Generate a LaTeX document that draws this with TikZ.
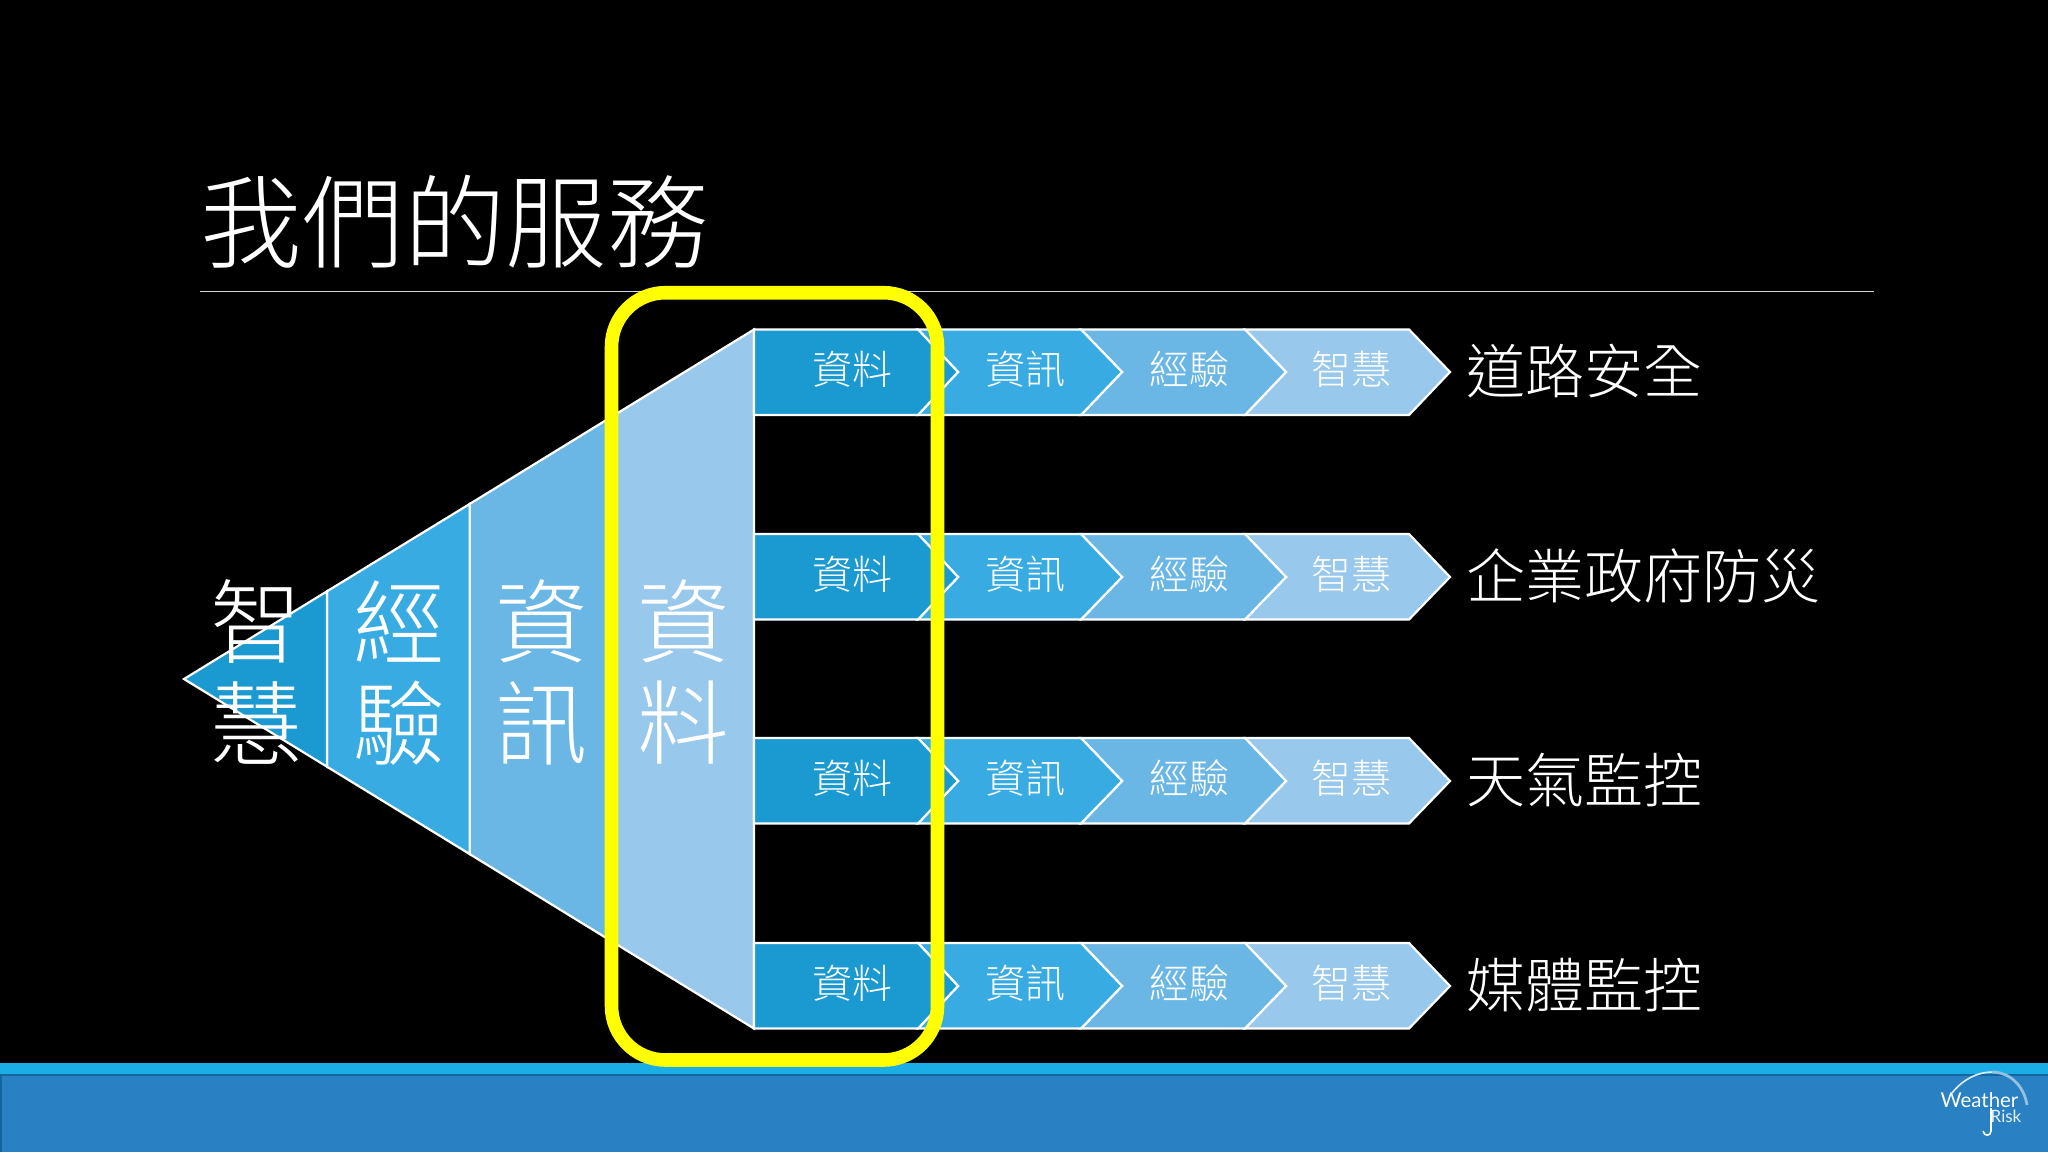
\documentclass[tikz,border=0pt]{standalone}
\usepackage{fontspec}
\newfontfamily\cjk{Noto Sans CJK TC Light}
\newfontfamily\logofont{Lato}
\definecolor{cA}{HTML}{1B9AD1}
\definecolor{cB}{HTML}{38ACE2}
\definecolor{cC}{HTML}{6AB7E6}
\definecolor{cD}{HTML}{98C8EC}
\definecolor{bandlight}{HTML}{1BAEE6}
\definecolor{bandmain}{HTML}{2980C3}
\definecolor{bandedge}{HTML}{14679E}
\definecolor{ruleyellow}{HTML}{FFFF00}
\tikzset{
  x=0.5pt,y=-0.5pt,
  seg/.style={draw=white,line width=1.1pt,line join=miter},
  chev/.style={draw=white,line width=1.1pt,line join=miter},
  smalltxt/.style={text=white,inner sep=0pt,font=\cjk\fontsize{20}{20}\selectfont},
  bigtxt/.style={text=white,inner sep=0pt,font=\cjk\fontsize{46}{46}\selectfont},
  sidetxt/.style={text=white,inner sep=0pt,anchor=west,font=\cjk\fontsize{29.5}{30}\selectfont},
}
\newcommand{\chevrow}[5]{%
  % #1 top y, #2 bottom y, #3 row tag, #4 mid y, #5 side label
  \path[chev,fill=cD] (1245,#1) -- (1409,#1) -- (1450,#4) -- (1409,#2) -- (1245,#2) -- (1286,#4) -- cycle;
  \path[chev,fill=cC] (1081,#1) -- (1245,#1) -- (1286,#4) -- (1245,#2) -- (1081,#2) -- (1122,#4) -- cycle;
  \path[chev,fill=cB] (918,#1) -- (1081,#1) -- (1122,#4) -- (1081,#2) -- (918,#2) -- (958,#4) -- cycle;
  \path[chev,fill=cA] (754,#1) -- (918,#1) -- (958,#4) -- (918,#2) -- (754,#2) -- cycle;
  \node[smalltxt] (a#3) at (852.5,#4-2.5) {資料};
  \node[smalltxt] (b#3) at (1025,#4-2.5) {資訊};
  \node[smalltxt] (c#3) at (1189,#4-2.5) {經驗};
  \node[smalltxt] (d#3) at (1351.5,#4-2.5) {智慧};
  \node[sidetxt] (s#3) at (1466,#4-0.7) {#5};
}
\begin{document}
\begin{tikzpicture}
\fill[black] (0,0) rectangle (2048,1152);
\useasboundingbox (0,0) rectangle (2048,1152);
% bottom band
\fill[bandlight] (0,1063) rectangle (2048,1074);
\fill[bandmain] (0,1075) rectangle (2048,1152);
\fill[bandedge] (0,1074) rectangle (2048,1075.5);
\fill[bandedge] (0,1075) rectangle (1.5,1152);
% title
\node[text=white,inner sep=0pt,anchor=west,font=\cjk\fontsize{50.8}{51}\selectfont] (title) at (200.5,222) {我們的服務};
\coordinate (ruleL) at (200,291.5);
\coordinate (ruleR) at (1874,291.5);
\draw[white!85!black,line width=0.6pt] (ruleL) -- (ruleR);
% funnel
\path[seg,fill=cD] (612,416.5) -- (754,329.5) -- (754,1028.5) -- (612,941.5) -- cycle;
\path[seg,fill=cC] (469.6,504) -- (612,416.5) -- (612,941.5) -- (469.6,854) -- cycle;
\path[seg,fill=cB] (327,591.3) -- (469.6,504) -- (469.6,854) -- (327,766.7) -- cycle;
\path[seg,fill=cA] (184,679) -- (327,591.3) -- (327,766.7) -- cycle;
% rows
\chevrow{329.5}{415}{1}{372}{道路安全}
\chevrow{534}{619.5}{2}{577}{企業政府防災}
\chevrow{738}{823.5}{3}{781}{天氣監控}
\chevrow{943}{1028.5}{4}{986}{媒體監控}
% funnel labels
\node[bigtxt] (f1a) at (256,621) {智};
\node[bigtxt] (f1b) at (256,723) {慧};
\node[bigtxt] (f2a) at (399,621) {經};
\node[bigtxt] (f2b) at (399,723) {驗};
\node[bigtxt] (f3a) at (541,621) {資};
\node[bigtxt] (f3b) at (541,723) {訊};
\node[bigtxt] (f4a) at (683.5,621) {資};
\node[bigtxt] (f4b) at (683.5,723) {料};
% yellow frame
\draw[ruleyellow,line width=6.8pt,rounded corners=27pt] (611.5,292.7) rectangle (937.5,1060);
% logo
\node[text=white,inner sep=0pt,font=\logofont\fontsize{10.2}{11}\selectfont] (logoW) at (1979.5,1100) {Weather};
\node[text=white!90!bandmain,inner sep=0pt,font=\logofont\fontsize{8.5}{10}\selectfont] (logoR) at (2006,1116) {Risk};
\draw[white!85!bandmain,line width=0.8pt] (1952,1093) .. controls (1963,1079) and (1978,1072) .. (1992,1072);
\draw[white!50!bandmain,line width=1.4pt] (1992,1072) .. controls (2010,1072) and (2024,1086) .. (2027,1105);
\draw[white,line width=0.8pt] (1991,1108) -- (1991,1131) .. controls (1991,1136) and (1984,1137) .. (1983,1131);
\end{tikzpicture}
\end{document}
